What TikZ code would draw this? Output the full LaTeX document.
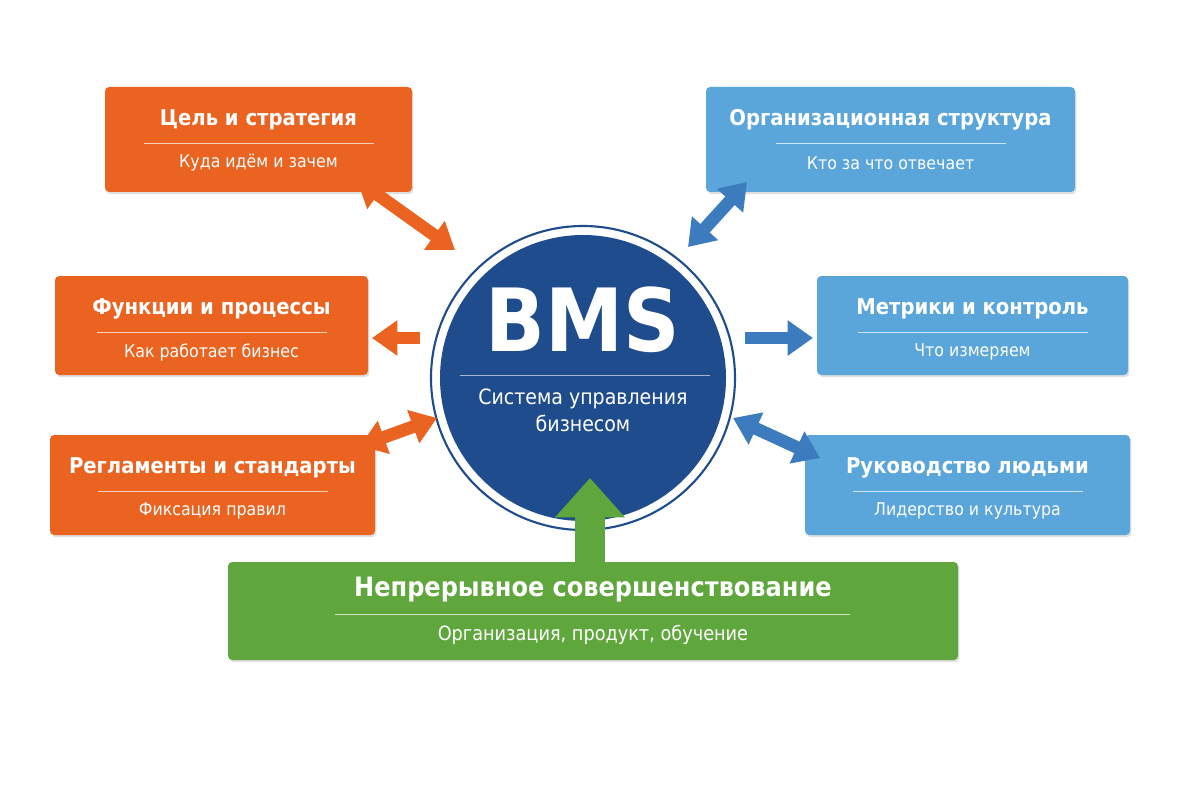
\documentclass[tikz,border=0pt]{standalone}
\usepackage{fontspec}
\setmainfont{DejaVu Sans Condensed}
\usetikzlibrary{arrows.meta,shadows}
\definecolor{org}{HTML}{EA6320}
\definecolor{blu}{HTML}{5AA5DA}
\definecolor{nav}{HTML}{1F4C8C}
\definecolor{grn}{HTML}{5FA63C}
\definecolor{arb}{HTML}{3C7BBE}
\tikzset{
 box/.style={rounded corners=3pt, drop shadow={opacity=0.25,shadow xshift=1pt,shadow yshift=-1.5pt}},
 ttl/.style={text=white,font=\bfseries\fontsize{15.5}{19}\selectfont},
 sub/.style={text=white,font=\fontsize{12.5}{15}\selectfont},
 dbl/.style={line width=9pt,{Triangle[length=18pt,width=24pt]}-{Triangle[length=18pt,width=24pt]}},
 sgl/.style={line width=9pt,-{Triangle[length=18pt,width=24pt]}},
}
\begin{document}
\begin{tikzpicture}[x=0.025cm,y=-0.025cm]
\useasboundingbox (0,0) rectangle (1200,800);
\fill[white] (0,0) rectangle (1200,800);
\newcommand\mybox[8]{%
 \fill[#1,box] (#2,#3) rectangle (#4,#5);
 \node[ttl] (#8t) at ({(#2+#4)/2},{#3+33}) {#6};
 \draw[white,opacity=0.7,line width=0.6pt] ({(#2+#4)/2-115},{#3+56}) -- ({(#2+#4)/2+115},{#3+56});
 \node[sub] (#8s) at ({(#2+#4)/2},{#3+76}) {#7};
 \coordinate (#8) at ({(#2+#4)/2},{(#3+#5)/2});}
\mybox{org}{105}{87}{412}{192}{Цель и стратегия}{Куда идём и зачем}{o1}
\mybox{org}{55}{276}{368}{375}{Функции и процессы}{Как работает бизнес}{o2}
\mybox{org}{50}{435}{375}{535}{Регламенты и стандарты}{Фиксация правил}{o3}
\mybox{blu}{706}{87}{1075}{192}{Организационная структура}{Кто за что отвечает}{b1}
\mybox{blu}{817}{276}{1128}{375}{Метрики и контроль}{Что измеряем}{b2}
\mybox{blu}{805}{435}{1130}{535}{Руководство людьми}{Лидерство и культура}{b3}
\fill[grn,box] (228,562) rectangle (958,660);
\node[ttl,font=\bfseries\fontsize{19}{23}\selectfont] (gt) at (593,590) {Непрерывное совершенствование};
\draw[white,opacity=0.7,line width=0.6pt] (335,614) -- (850,614);
\node[sub,font=\fontsize{14}{17}\selectfont] (gs) at (593,635) {Организация, продукт, обучение};
\draw[nav,line width=1.5pt,fill=white] (583,378) circle (152);
\fill[nav] (583,378) circle (143);
\node[text=white,font=\bfseries\fontsize{62}{70}\selectfont] (bms) at (583,320) {BMS};
\draw[white,opacity=0.6,line width=0.6pt] (460,375) -- (710,375);
\node[text=white,align=center,font=\fontsize{15}{19}\selectfont] (bs) at (583,410) {Система управления\\бизнесом};
\draw[dbl,org] (357,180) -- (455,250);
\draw[sgl,org] (420,338) -- (372,338);
\draw[dbl,org] (360,446) -- (437,418);
\draw[dbl,arb] (747,182) -- (688,247);
\draw[sgl,arb] (745,338) -- (813,338);
\draw[dbl,arb] (733,418) -- (820,458);
\draw[grn,line width=22pt,-{Triangle[length=28pt,width=48pt]}] (590,562) -- (590,478);
\end{tikzpicture}
\end{document}
